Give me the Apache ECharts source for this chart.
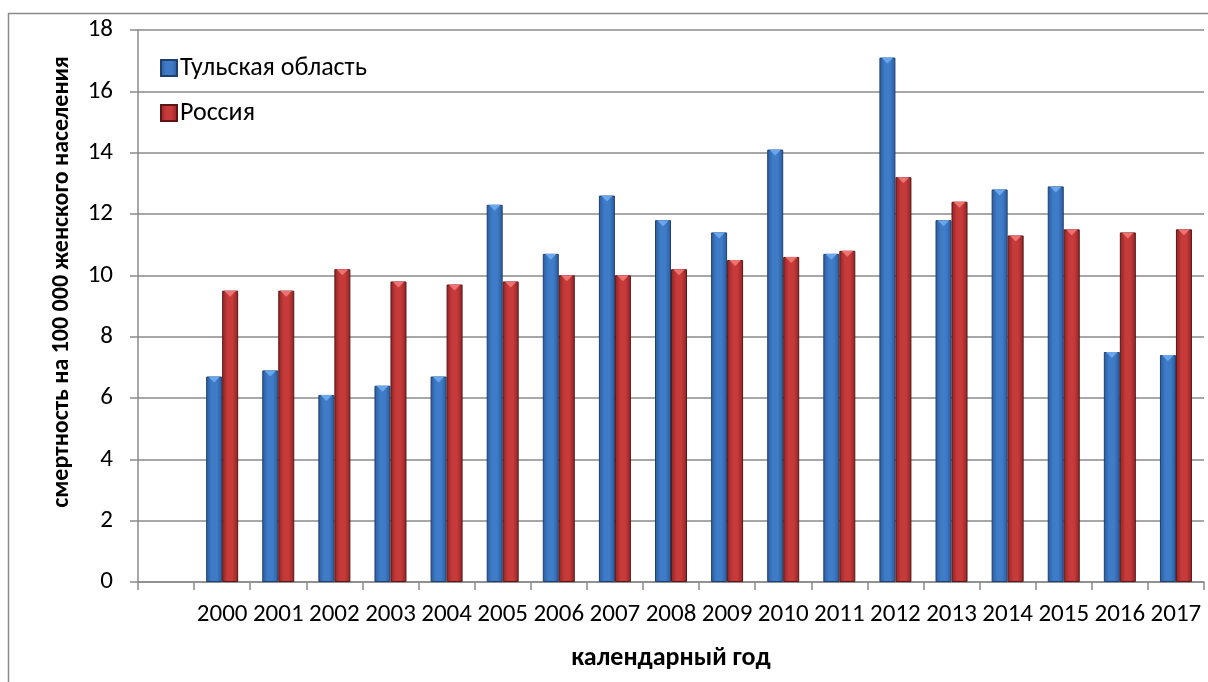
<!DOCTYPE html>
<html>
<head>
<meta charset="utf-8">
<script src="https://cdn.jsdelivr.net/npm/echarts@6/dist/echarts.min.js"></script>
<style>
html,body{margin:0;padding:0;background:#fff;}
#chart{width:1208px;height:682px;}
</style>
</head>
<body>
<div id="chart"></div>
<script>
const categories = ['', '2000','2001','2002','2003','2004','2005','2006','2007','2008','2009','2010','2011','2012','2013','2014','2015','2016','2017'];
const tulaValues = [null, 6.7, 6.9, 6.1, 6.4, 6.7, 12.3, 10.7, 12.6, 11.8, 11.4, 14.1, 10.7, 17.1, 11.8, 12.8, 12.9, 7.5, 7.4];
const russiaValues = [null, 9.5, 9.5, 10.2, 9.8, 9.7, 9.8, 10.0, 10.0, 10.2, 10.5, 10.6, 10.8, 13.2, 12.4, 11.3, 11.5, 11.4, 11.5];
const seriesNames = ['Тульская область', 'Россия'];
const yTicks = [0, 2, 4, 6, 8, 10, 12, 14, 16, 18];
const xTitle = 'календарный год';
const yTitle = 'смертность на 100 000 женского населения';

const FONT = 'Carlito, Lato, "Open Sans", sans-serif';

function grad(edge, mid) {
  return new echarts.graphic.LinearGradient(0, 0, 1, 0, [
    {offset: 0, color: edge},
    {offset: 0.35, color: mid},
    {offset: 0.65, color: mid},
    {offset: 1, color: edge}
  ]);
}
const blueFill = grad('#2b5b9c', '#3f7cc8');
const redFill = grad('#8e2525', '#c73a3a');

const chart = echarts.init(document.getElementById('chart'), null, {renderer: 'canvas'});
chart.setOption({
  animation: false,
  backgroundColor: '#fff',
  textStyle: {fontFamily: FONT},
  graphic: [
    {type: 'rect', shape: {x: 8.5, y: 13.5, width: 1250, height: 720}, style: {fill: 'none', stroke: '#8a8a8a', lineWidth: 1.5}, silent: true, z: -1},
    {type: 'text', x: 62, y: 282, rotation: Math.PI / 2,
     style: {text: yTitle, font: 'bold 24px ' + FONT, fill: '#000', textAlign: 'center', textVerticalAlign: 'middle'}}
  ],
  legend: {
    orient: 'vertical',
    left: 155,
    top: 50,
    itemWidth: 16,
    itemHeight: 16,
    itemGap: 19,
    icon: 'rect',
    textStyle: {fontSize: 26, color: '#000', fontFamily: FONT, padding: [0, 0, 0, -2]},
    data: seriesNames
  },
  grid: {left: 138, right: 4, top: 30, bottom: 100, containLabel: false},
  xAxis: {
    type: 'category',
    data: categories,
    name: xTitle,
    nameLocation: 'middle',
    nameGap: 63,
    nameTextStyle: {fontSize: 26, fontWeight: 'bold', color: '#000', fontFamily: FONT},
    axisLine: {lineStyle: {color: '#8a8a8a', width: 1.5}},
    axisTick: {show: true, length: 8, lineStyle: {color: '#8a8a8a', width: 1.5}, alignWithLabel: false},
    axisLabel: {interval: 0, fontSize: 25, color: '#000', margin: 20, fontFamily: FONT},
    splitLine: {show: false}
  },
  yAxis: {
    type: 'value',
    min: 0,
    max: 18,
    interval: 2,
    axisLine: {show: true, lineStyle: {color: '#8a8a8a', width: 1.5}},
    axisTick: {show: true, length: 8, lineStyle: {color: '#8a8a8a', width: 1.5}},
    axisLabel: {fontSize: 25, color: '#000', margin: 25, fontFamily: FONT,
      formatter: v => yTicks.includes(v) ? String(v) : ''},
    splitLine: {lineStyle: {color: '#8a8a8a', width: 1.5}}
  },
  series: [
    {
      name: seriesNames[0], type: 'bar', data: tulaValues,
      barWidth: 16, barGap: '0%',
      itemStyle: {color: blueFill, borderColor: '#1f3f6e', borderWidth: 1},
      emphasis: {disabled: true}
    },
    {
      name: seriesNames[1], type: 'bar', data: russiaValues,
      barWidth: 16, barGap: '0%',
      itemStyle: {color: redFill, borderColor: '#5a1515', borderWidth: 1},
      emphasis: {disabled: true}
    },
    {
      name: 'capBlue', type: 'pictorialBar', data: tulaValues,
      barWidth: 16, barGap: '0%',
      symbol: 'path://M0,0 L10,0 L5,5 Z', symbolSize: [12, 6], symbolPosition: 'end',
      symbolOffset: [0, 0], itemStyle: {color: '#6aa6ec'}, z: 5, silent: true,
      legendHoverLink: false
    },
    {
      name: 'capRed', type: 'pictorialBar', data: russiaValues,
      barWidth: 16, barGap: '0%',
      symbol: 'path://M0,0 L10,0 L5,5 Z', symbolSize: [12, 6], symbolPosition: 'end',
      symbolOffset: [0, 0], itemStyle: {color: '#ee7272'}, z: 5, silent: true,
      legendHoverLink: false
    }
  ]
});
</script>
</body>
</html>
